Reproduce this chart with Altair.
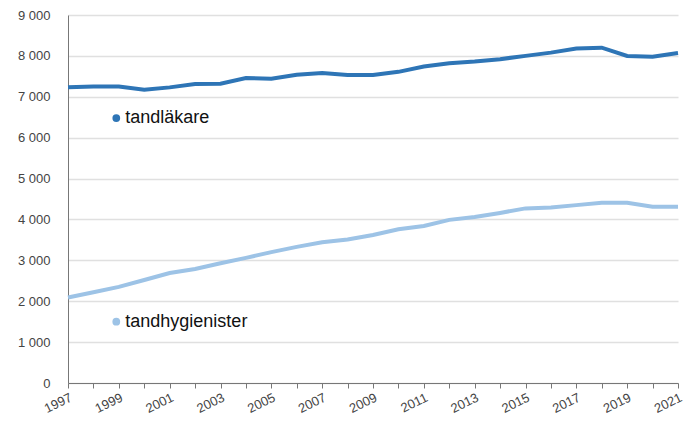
import altair as alt
import pandas as pd

years = list(range(1997, 2022))
tandlakare = [7230, 7250, 7250, 7170, 7230, 7310, 7320, 7460, 7440, 7540, 7580,
              7530, 7530, 7610, 7740, 7820, 7860, 7920, 8000, 8080, 8180, 8200,
              8000, 7980, 8070]
tandhygienister = [2090, 2220, 2350, 2520, 2690, 2790, 2930, 3060, 3200, 3330, 3440,
                   3510, 3620, 3760, 3840, 3990, 4060, 4160, 4270, 4290, 4350, 4410,
                   4410, 4310, 4310]
series_names = ["tandläkare", "tandhygienister"]
series_colors = ["#2e75b6", "#9dc3e6"]
label_years = [1998.9, 1998.9]
label_values = [6480, 1500]

df = pd.DataFrame({
    "year": years * 2,
    "value": tandlakare + tandhygienister,
    "series": [series_names[0]] * len(years) + [series_names[1]] * len(years),
})
lab = pd.DataFrame({"year": label_years, "value": label_values, "series": series_names})

color = alt.Color("series:N", scale=alt.Scale(domain=series_names, range=series_colors), legend=None)
font = "Liberation Sans"

x = alt.X("year:Q", scale=alt.Scale(domain=[1997, 2021], nice=False, zero=False),
          axis=alt.Axis(values=years, title=None, grid=False,
                        labelExpr="datum.value % 2 == 1 ? datum.value : ''",
                        labelAngle=-26, labelAlign="right", labelBaseline="top",
                        labelFontSize=13, labelColor="#444", labelFont=font,
                        tickColor="#777", tickSize=5, domainColor="#777",
                        labelPadding=3, labelOverlap=False))
y = alt.Y("value:Q", scale=alt.Scale(domain=[0, 9000], nice=False),
          axis=alt.Axis(values=list(range(0, 9001, 1000)), title=None,
                        labelExpr="replace(format(datum.value, ',d'), ',', ' ')",
                        labelFontSize=13, labelColor="#444", labelFont=font,
                        ticks=False, labelPadding=18, domainColor="#777",
                        gridColor="#e0e0e0", gridWidth=1.5))

lines = alt.Chart(df).mark_line(strokeWidth=4).encode(x=x, y=y, color=color, detail="series:N")
dots = alt.Chart(lab).mark_point(filled=True, size=60, opacity=1).encode(x=x, y=y, color=color)
texts = alt.Chart(lab).mark_text(align="left", baseline="middle", dx=9, fontSize=18,
                                  font=font, color="#111").encode(x=x, y=y, text="series:N")

chart = alt.layer(lines, dots, texts).properties(
    width=610, height=368,
    autosize=alt.AutoSizeParams(type="none"),
    padding={"left": 60, "top": 7, "right": 6, "bottom": 37},
).configure_view(stroke=None)

chart.save("out.html", embed_options={"renderer": "svg", "actions": False})
